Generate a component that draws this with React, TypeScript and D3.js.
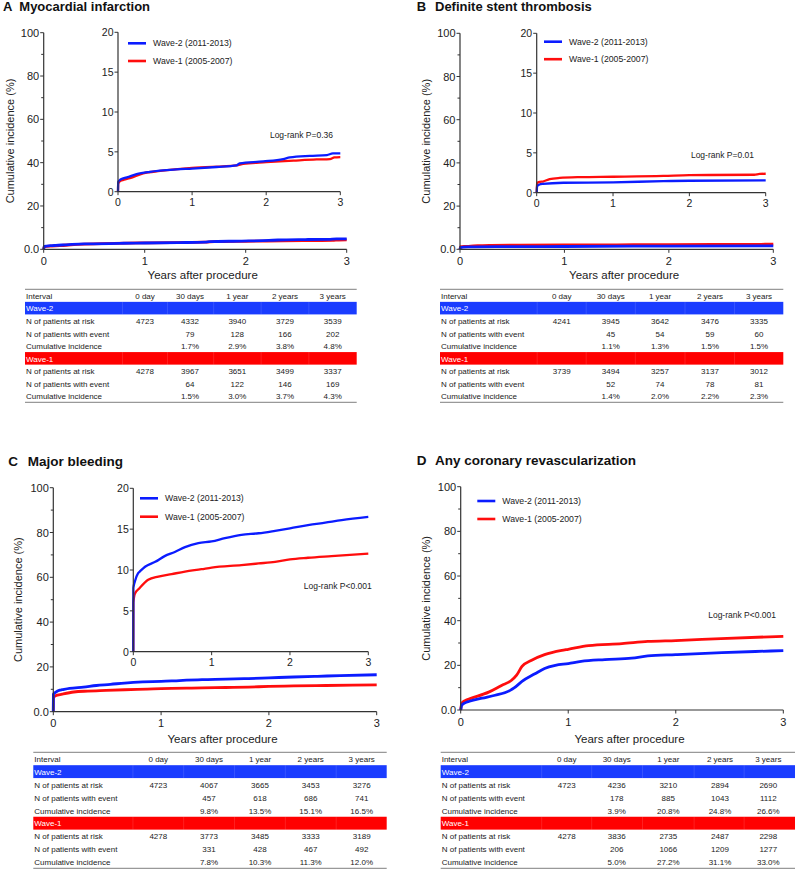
import React from "react";
import * as d3 from "d3";

type Pt = [number, number];

const FONT = "'Liberation Sans', Arial, Helvetica, sans-serif";
const BLUE_LINE = "#0b1cff";
const RED_LINE = "#ff0d0d";
const BLUE_BAR = "#1a3cff";
const RED_BAR = "#ff0000";
const AXIS = "#333";
const TXT = "#222";

// ---------- shared labels ----------
const yearTicks = [0, 1, 2, 3];
const mainTicks = [0, 20, 40, 60, 80, 100];
const mainTickLabels = ["0.0", "20", "40", "60", "80", "100"];
const mainMinorTicks = [10, 30, 50, 70, 90];
const insetTicks = [0, 5, 10, 15, 20];
const intervalLabels = ["0 day", "30 days", "1 year", "2 years", "3 years"];
const rowLabels = ["N of patients at risk", "N of patients with event", "Cumulative incidence"];
const legendLabels = ["Wave-2 (2011-2013)", "Wave-1 (2005-2007)"];
const waveNames = ["Wave-2", "Wave-1"];

// ---------- A: Myocardial infarction ----------
const miWave2: Pt[] = [[0, 0], [0.003, 1.25], [0.03, 1.5], [0.082, 1.7], [0.12, 1.8], [0.25, 2.2], [0.43, 2.5], [0.79, 2.8], [1.0, 2.9], [1.33, 3.1], [1.6, 3.3], [1.64, 3.55], [1.96, 3.8], [2.23, 4.1], [2.32, 4.3], [2.59, 4.5], [2.82, 4.6], [2.9, 4.8], [3.0, 4.8]];
const miWave1: Pt[] = [[0, 0], [0.003, 1.0], [0.03, 1.35], [0.082, 1.5], [0.16, 1.7], [0.34, 2.3], [0.57, 2.6], [1.0, 3.0], [1.6, 3.3], [1.69, 3.5], [2.0, 3.7], [2.37, 3.9], [2.68, 4.05], [2.86, 4.1], [2.92, 4.3], [3.0, 4.35]];
const miRisk2 = ["4723", "4332", "3940", "3729", "3539"];
const miEvent2 = ["", "79", "128", "166", "202"];
const miCum2 = ["", "1.7%", "2.9%", "3.8%", "4.8%"];
const miRisk1 = ["4278", "3967", "3651", "3499", "3337"];
const miEvent1 = ["", "64", "122", "146", "169"];
const miCum1 = ["", "1.5%", "3.0%", "3.7%", "4.3%"];

// ---------- B: Definite stent thrombosis ----------
const stWave2: Pt[] = [[0, 0], [0.005, 0.8], [0.03, 1.0], [0.082, 1.1], [0.35, 1.25], [1.0, 1.3], [1.66, 1.45], [2.0, 1.5], [3.0, 1.55]];
const stWave1: Pt[] = [[0, 0], [0.005, 1.2], [0.04, 1.35], [0.082, 1.4], [0.17, 1.7], [0.3, 1.85], [0.57, 1.95], [1.0, 2.0], [1.66, 2.1], [2.0, 2.2], [2.85, 2.25], [2.92, 2.35], [3.0, 2.38]];
const stRisk2 = ["4241", "3945", "3642", "3476", "3335"];
const stEvent2 = ["", "45", "54", "59", "60"];
const stCum2 = ["", "1.1%", "1.3%", "1.5%", "1.5%"];
const stRisk1 = ["3739", "3494", "3257", "3137", "3012"];
const stEvent1 = ["", "52", "74", "78", "81"];
const stCum1 = ["", "1.4%", "2.0%", "2.2%", "2.3%"];

// ---------- C: Major bleeding ----------
const blWave2: Pt[] = [[0, 0], [0.001, 7.8], [0.02, 8.6], [0.06, 9.6], [0.082, 9.8], [0.15, 10.4], [0.28, 11.0], [0.4, 11.7], [0.53, 12.2], [0.66, 12.8], [0.83, 13.3], [1.0, 13.5], [1.17, 13.9], [1.38, 14.3], [1.6, 14.5], [1.81, 14.8], [2.0, 15.1], [2.23, 15.5], [2.45, 15.8], [2.66, 16.1], [3.0, 16.5]];
const blWave1: Pt[] = [[0, 0], [0.001, 6.0], [0.02, 7.1], [0.082, 7.8], [0.19, 8.8], [0.32, 9.2], [0.49, 9.5], [0.66, 9.8], [0.87, 10.1], [1.0, 10.3], [1.38, 10.6], [1.6, 10.8], [1.81, 11.0], [2.0, 11.3], [2.23, 11.5], [2.53, 11.7], [3.0, 12.0]];
const blRisk2 = ["4723", "4067", "3665", "3453", "3276"];
const blEvent2 = ["", "457", "618", "686", "741"];
const blCum2 = ["", "9.8%", "13.5%", "15.1%", "16.5%"];
const blRisk1 = ["4278", "3773", "3485", "3333", "3189"];
const blEvent1 = ["", "331", "428", "467", "492"];
const blCum1 = ["", "7.8%", "10.3%", "11.3%", "12.0%"];

// ---------- D: Any coronary revascularization ----------
const rvWave2: Pt[] = [[0, 0], [0.01, 2.2], [0.04, 3.2], [0.082, 3.9], [0.2, 5.3], [0.32, 6.6], [0.46, 8.8], [0.5, 10.0], [0.57, 12.8], [0.69, 16.2], [0.78, 18.6], [0.88, 20.0], [1.0, 20.8], [1.12, 21.8], [1.34, 22.6], [1.59, 23.2], [1.74, 24.2], [2.0, 24.8], [2.43, 25.7], [2.74, 26.2], [3.0, 26.6]];
const rvWave1: Pt[] = [[0, 0], [0.01, 3.0], [0.04, 4.2], [0.082, 5.0], [0.26, 8.0], [0.38, 11.0], [0.47, 13.2], [0.52, 15.6], [0.57, 19.5], [0.66, 22.3], [0.78, 24.8], [0.94, 26.7], [1.0, 27.2], [1.19, 28.8], [1.5, 29.7], [1.74, 30.7], [2.0, 31.1], [2.42, 32.0], [3.0, 33.0]];
const rvRisk2 = ["4723", "4236", "3210", "2894", "2690"];
const rvEvent2 = ["", "178", "885", "1043", "1112"];
const rvCum2 = ["", "3.9%", "20.8%", "24.8%", "26.6%"];
const rvRisk1 = ["4278", "3836", "2735", "2487", "2298"];
const rvEvent1 = ["", "206", "1066", "1209", "1277"];
const rvCum1 = ["", "5.0%", "27.2%", "31.1%", "33.0%"];

type Box = { x0: number; x1: number; yT: number; yB: number };

function Plot({ box, yMax, ticks, tickLabels, minor, wave2, wave1, lw, fs, xlabDy }: {
  box: Box; yMax: number; ticks: number[]; tickLabels: string[]; minor: number[];
  wave2: Pt[]; wave1: Pt[]; lw: number; fs: number; xlabDy: number;
}) {
  const x = d3.scaleLinear().domain([0, 3]).range([box.x0, box.x1]);
  const y = d3.scaleLinear().domain([0, yMax]).range([box.yB, box.yT]);
  const line = d3.line<Pt>().x((d) => x(d[0])).y((d) => y(d[1])).curve(d3.curveMonotoneX);
  return (
    <g>
      <path d={line(wave1) || ""} fill="none" stroke={RED_LINE} strokeWidth={lw} strokeLinejoin="round" />
      <path d={line(wave2) || ""} fill="none" stroke={BLUE_LINE} strokeWidth={lw} strokeLinejoin="round" />
      <line x1={box.x0} x2={box.x0} y1={box.yT} y2={box.yB} stroke={AXIS} strokeWidth={1.2} />
      <line x1={box.x0} x2={box.x1} y1={box.yB} y2={box.yB} stroke={AXIS} strokeWidth={1.2} />
      {ticks.map((t, i) => (
        <g key={"t" + t}>
          <line x1={box.x0 - 3.5} x2={box.x0} y1={y(t)} y2={y(t)} stroke={AXIS} strokeWidth={1} />
          <text x={box.x0 - 4.5} y={y(t)} textAnchor="end" dominantBaseline="central" fontSize={fs} fill={TXT}>{tickLabels[i]}</text>
        </g>
      ))}
      {minor.map((t) => (
        <line key={"m" + t} x1={box.x0 - 2.5} x2={box.x0} y1={y(t)} y2={y(t)} stroke={AXIS} strokeWidth={1} />
      ))}
      {yearTicks.map((t) => (
        <g key={"x" + t}>
          <line x1={x(t)} x2={x(t)} y1={box.yB} y2={box.yB + 3.5} stroke={AXIS} strokeWidth={1} />
          <text x={x(t)} y={box.yB + xlabDy} textAnchor="middle" dominantBaseline="central" fontSize={fs} fill={TXT}>{t}</text>
        </g>
      ))}
    </g>
  );
}

function Legend({ x, y, gap }: { x: number; y: number; gap: number }) {
  return (
    <g>
      {legendLabels.map((l, i) => (
        <g key={l}>
          <line x1={x} x2={x + 18} y1={y + i * gap} y2={y + i * gap} stroke={i === 0 ? BLUE_LINE : RED_LINE} strokeWidth={2.6} />
          <text x={x + 25} y={y + i * gap} dominantBaseline="central" fontSize={8.7} fill={TXT}>{l}</text>
        </g>
      ))}
    </g>
  );
}

function Table({ x0, x1, yT, yB, cols, w2, w1 }: {
  x0: number; x1: number; yT: number; yB: number; cols: number[]; w2: string[][]; w1: string[][];
}) {
  const h = (yB - yT) / 9;
  const rc = (i: number) => yT + h * (i + 0.5) + 0.8;
  const bounds = [cols[0] - (cols[1] - cols[0]) / 2, ...cols.slice(0, -1).map((c, i) => (c + cols[i + 1]) / 2)];
  const fs = 8;
  const block = (start: number, rows: string[][], color: string, name: string) => (
    <g>
      <rect x={x0} y={yT + h * start} width={x1 - x0} height={h} fill={color} />
      {bounds.map((b) => (
        <line key={b} x1={b} x2={b} y1={yT + h * start} y2={yT + h * (start + 1)} stroke="#fff" strokeOpacity={0.12} />
      ))}
      <text x={x0 + 1} y={rc(start)} dominantBaseline="central" fontSize={fs} fill="#fff">{name}</text>
      {rows.map((r, ri) => (
        <g key={ri}>
          <text x={x0 + 1} y={rc(start + 1 + ri)} dominantBaseline="central" fontSize={fs} fill={TXT}>{rowLabels[ri]}</text>
          {r.map((v, ci) => (
            <text key={ci} x={cols[ci]} y={rc(start + 1 + ri)} textAnchor="middle" dominantBaseline="central" fontSize={fs} fill={TXT}>{v}</text>
          ))}
        </g>
      ))}
    </g>
  );
  return (
    <g>
      <line x1={x0} x2={x1} y1={yT} y2={yT} stroke="#999" strokeWidth={1.2} />
      <line x1={x0} x2={x1} y1={yB} y2={yB} stroke="#999" strokeWidth={1.2} />
      <text x={x0 + 1} y={rc(0)} dominantBaseline="central" fontSize={fs} fill={TXT}>Interval</text>
      {intervalLabels.map((l, i) => (
        <text key={l} x={cols[i]} y={rc(0)} textAnchor="middle" dominantBaseline="central" fontSize={fs} fill={TXT}>{l}</text>
      ))}
      {block(1, w2, BLUE_BAR, waveNames[0])}
      {block(5, w1, RED_BAR, waveNames[1])}
    </g>
  );
}

type PanelCfg = {
  letter: string; name: string; titleX: number; nameX: number; titleY: number; titleFs: number;
  main: Box; inset?: Box; legend: { x: number; y: number; gap: number }; logrank: { x: number; y: number; text: string };
  xlabY: number; ylabX: number;
  table: { x0: number; x1: number; yT: number; yB: number; cols: number[] };
  wave2: Pt[]; wave1: Pt[]; t2: string[][]; t1: string[][];
};

const panels: PanelCfg[] = [
  {
    letter: "A", name: "Myocardial infarction", titleX: 3, nameX: 19.3, titleY: 10.5, titleFs: 13,
    main: { x0: 43.7, x1: 346.7, yT: 32.7, yB: 249.3 },
    inset: { x0: 118, x1: 340.3, yT: 32.3, yB: 191.7 },
    legend: { x: 128, y: 43.3, gap: 17.7 }, logrank: { x: 333, y: 135, text: "Log-rank P=0.36" },
    xlabY: 275, ylabX: 10,
    table: { x0: 25, x1: 356.7, yT: 289.3, yB: 402.3, cols: [145, 190, 237.3, 285, 332.7] },
    wave2: miWave2, wave1: miWave1, t2: [miRisk2, miEvent2, miCum2], t1: [miRisk1, miEvent1, miCum1],
  },
  {
    letter: "B", name: "Definite stent thrombosis", titleX: 416.7, nameX: 435, titleY: 10.5, titleFs: 13,
    main: { x0: 460, x1: 773.3, yT: 33.3, yB: 249.3 },
    inset: { x0: 536.7, x1: 765.7, yT: 33.3, yB: 192.7 },
    legend: { x: 544, y: 41.7, gap: 17.5 }, logrank: { x: 754, y: 155, text: "Log-rank P=0.01" },
    xlabY: 275.3, ylabX: 425.8,
    table: { x0: 440, x1: 783.3, yT: 289.3, yB: 402.3, cols: [561.7, 610.7, 660, 710, 759] },
    wave2: stWave2, wave1: stWave1, t2: [stRisk2, stEvent2, stCum2], t1: [stRisk1, stEvent1, stCum1],
  },
  {
    letter: "C", name: "Major bleeding", titleX: 8.3, nameX: 27.7, titleY: 466, titleFs: 13.5,
    main: { x0: 53.3, x1: 376.7, yT: 487.7, yB: 711.7 },
    inset: { x0: 133.3, x1: 368.3, yT: 488.3, yB: 651.7 },
    legend: { x: 140, y: 498.3, gap: 18.4 }, logrank: { x: 371.7, y: 586, text: "Log-rank P<0.001" },
    xlabY: 739.3, ylabX: 17.7,
    table: { x0: 33.3, x1: 386.7, yT: 752.3, yB: 868.3, cols: [158.3, 209, 260, 310.7, 361.7] },
    wave2: blWave2, wave1: blWave1, t2: [blRisk2, blEvent2, blCum2], t1: [blRisk1, blEvent1, blCum1],
  },
  {
    letter: "D", name: "Any coronary revascularization", titleX: 416.7, nameX: 435, titleY: 465, titleFs: 13.5,
    main: { x0: 460.7, x1: 783.3, yT: 486.7, yB: 710 },
    legend: { x: 477.3, y: 501, gap: 18 }, logrank: { x: 776, y: 615, text: "Log-rank P<0.001" },
    xlabY: 739.3, ylabX: 425.7,
    table: { x0: 440.7, x1: 795, yT: 752.3, yB: 868.3, cols: [566.7, 616.7, 668.3, 720, 768.3] },
    wave2: rvWave2, wave1: rvWave1, t2: [rvRisk2, rvEvent2, rvCum2], t1: [rvRisk1, rvEvent1, rvCum1],
  },
];

function Panel({ p }: { p: PanelCfg }) {
  const m = p.main;
  const ymid = (m.yT + m.yB) / 2;
  return (
    <g>
      <text x={p.titleX} y={p.titleY} fontSize={p.titleFs} fontWeight="bold" fill="#111">{p.letter}</text>
      <text x={p.nameX} y={p.titleY} fontSize={p.titleFs} fontWeight="bold" fill="#111">{p.name}</text>
      <Plot box={m} yMax={100} ticks={mainTicks} tickLabels={mainTickLabels} minor={mainMinorTicks}
        wave2={p.wave2} wave1={p.wave1} lw={2.8} fs={11} xlabDy={11.7} />
      {p.inset && (
        <Plot box={p.inset} yMax={20} ticks={insetTicks} tickLabels={insetTicks.map(String)} minor={[]}
          wave2={p.wave2} wave1={p.wave1} lw={2.3} fs={10.5} xlabDy={10} />
      )}
      <Legend x={p.legend.x} y={p.legend.y} gap={p.legend.gap} />
      <text x={p.logrank.x} y={p.logrank.y} textAnchor="end" dominantBaseline="central" fontSize={8.5} fill={TXT}>{p.logrank.text}</text>
      <text x={(m.x0 + m.x1) / 2 + 7.5} y={p.xlabY} textAnchor="middle" dominantBaseline="central" fontSize={11.5} fill={TXT}>Years after procedure</text>
      <text transform={`translate(${p.ylabX},${ymid}) rotate(-90)`} textAnchor="middle" dominantBaseline="central" fontSize={11} fill={TXT}>Cumulative incidence (%)</text>
      <Table {...p.table} w2={p.t2} w1={p.t1} />
    </g>
  );
}

export default function App() {
  return (
    <svg width={798} height={870} viewBox="0 0 798 870"
      style={{ position: "absolute", left: 0, top: 0, background: "#fff", fontFamily: FONT }}>
      <rect x={0} y={0} width={798} height={870} fill="#fff" />
      {panels.map((p) => <Panel key={p.letter} p={p} />)}
    </svg>
  );
}
